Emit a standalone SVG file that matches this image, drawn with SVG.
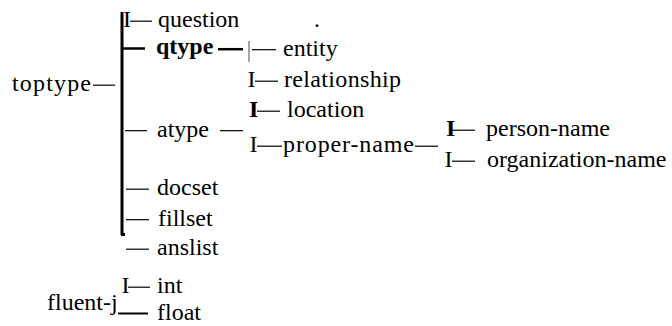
<svg xmlns="http://www.w3.org/2000/svg" width="672" height="326" viewBox="0 0 672 326">
<style>
  text { font-family: "Liberation Serif", "Times New Roman", "DejaVu Serif", serif; font-size: 24px; fill: #000; }
  .b { font-weight: bold; }
  .d { stroke: #000; stroke-width: 1.2; fill: none; }
  .t { stroke: #000; stroke-width: 2.5; fill: none; }
  .br { stroke: #000; stroke-width: 3; fill: none; }
  .g { stroke: #888; stroke-width: 1.5; fill: none; }
</style>
<rect width="672" height="326" fill="#fff"/>
<g id="connectors">
  <line class="br" x1="122" y1="12" x2="122" y2="235"/>
  <line class="br" x1="121" y1="234.5" x2="125" y2="234.5"/>
  <line class="d" x1="93" y1="85.2" x2="115" y2="85.2"/>
  <line class="d" x1="130" y1="21.2" x2="152" y2="21.2"/>
  <line class="t" x1="122" y1="48.5" x2="145" y2="48.5"/>
  <line class="t" x1="218" y1="49.2" x2="243" y2="49.2"/>
  <line class="g" x1="249" y1="41" x2="249" y2="62"/>
  <line class="d" x1="252" y1="49.7" x2="276" y2="49.7"/>
  <line class="d" x1="255" y1="81.2" x2="278" y2="81.2"/>
  <line class="d" x1="257" y1="111.2" x2="280" y2="111.2"/>
  <line class="d" x1="125" y1="130.7" x2="147" y2="130.7"/>
  <line class="d" x1="220" y1="130.7" x2="243" y2="130.7"/>
  <line class="d" x1="257" y1="146.2" x2="282" y2="146.2"/>
  <line class="d" x1="415" y1="146.2" x2="438" y2="146.2"/>
  <line class="d" x1="452" y1="130.2" x2="475" y2="130.2"/>
  <line class="d" x1="452" y1="161.2" x2="475" y2="161.2"/>
  <line class="d" x1="126" y1="189.2" x2="149" y2="189.2"/>
  <line class="d" x1="126" y1="219.7" x2="149" y2="219.7"/>
  <line class="d" x1="126" y1="249.2" x2="149" y2="249.2"/>
  <line class="d" x1="128" y1="287.2" x2="150" y2="287.2"/>
  <line class="t" x1="118" y1="313.5" x2="148" y2="313.5" style="stroke-width:2"/>
  <text x="123" y="27">I</text>
  <text x="247.5" y="87">I</text>
  <text x="249" y="117" class="b">I</text>
  <text x="249.5" y="152">I</text>
  <text x="446" y="136" class="b">I</text>
  <text x="444.5" y="167">I</text>
  <text x="121.5" y="293">I</text>
  <text x="314" y="27">.</text>
</g>
<g id="toptype"><text x="12" y="91" textLength="79" lengthAdjust="spacing">toptype</text></g>
<g id="question"><text x="158" y="27">question</text></g>
<g id="qtype"><text x="156" y="54" class="b">qtype</text></g>
<g id="entity"><text x="283" y="55.5">entity</text></g>
<g id="relationship"><text x="284" y="87" textLength="117" lengthAdjust="spacing">relationship</text></g>
<g id="location"><text x="287" y="117">location</text></g>
<g id="atype"><text x="157" y="136.5">atype</text></g>
<g id="proper-name"><text x="283" y="152" textLength="131" lengthAdjust="spacing">proper-name</text></g>
<g id="person-name"><text x="486" y="136">person-name</text></g>
<g id="organization-name"><text x="487" y="167">organization-name</text></g>
<g id="docset"><text x="157" y="195">docset</text></g>
<g id="fillset"><text x="158" y="225.5">fillset</text></g>
<g id="anslist"><text x="157" y="255">anslist</text></g>
<g id="int"><text x="157" y="293">int</text></g>
<g id="fluent-j"><text x="47" y="310">fluent-j</text></g>
<g id="float"><text x="157" y="320">float</text></g>
</svg>
